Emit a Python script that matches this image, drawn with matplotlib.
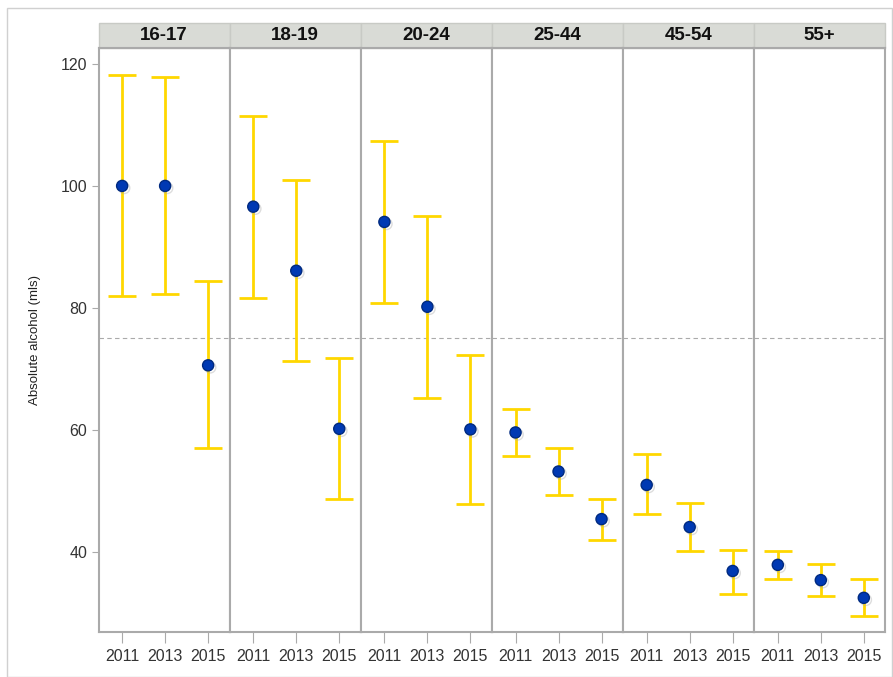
import matplotlib
matplotlib.use("Agg")
import matplotlib.pyplot as plt
import matplotlib.patheffects as pe
from matplotlib.patches import Rectangle
import numpy as np

plt.rcParams['font.family'] = ['Liberation Sans', 'DejaVu Sans']

groups = ['16-17', '18-19', '20-24', '25-44', '45-54', '55+']
years = ['2011', '2013', '2015']

means = [
    [100.0, 100.0, 70.6],
    [96.6, 86.1, 60.2],
    [94.1, 80.2, 60.1],
    [59.6, 53.2, 45.4],
    [51.0, 44.1, 36.9],
    [37.9, 35.4, 32.5],
]
upper = [
    [118.1, 117.9, 84.4],
    [111.5, 101.0, 71.8],
    [107.3, 95.1, 72.3],
    [63.4, 57.1, 48.7],
    [56.0, 48.1, 40.3],
    [40.2, 38.0, 35.6],
]
lower = [
    [82.0, 82.3, 57.0],
    [81.6, 71.3, 48.7],
    [80.8, 65.2, 47.9],
    [55.8, 49.4, 42.0],
    [46.3, 40.2, 33.2],
    [35.6, 32.8, 29.5],
]
ref_line = 75

W, H = 893, 677
fig = plt.figure(figsize=(W / 100, H / 100), dpi=100)

# light outer frame
fig.patches.append(Rectangle((7 / W, 0), (W - 8) / W, 1 - 8 / H, transform=fig.transFigure,
                             fill=False, edgecolor='#d0d0d0', linewidth=1))

left_px, right_px = 98.5, 885.3
top_px, bot_px = 48, 632
pw = (right_px - left_px) / 6
edge = '#aaaaaa'

x = np.arange(3)
for i, g in enumerate(groups):
    ax = fig.add_axes([(left_px + i * pw) / W, 1 - bot_px / H, pw / W, (bot_px - top_px) / H])
    m = np.array(means[i])
    up = np.array(upper[i]) - m
    lo = m - np.array(lower[i])
    ax.errorbar(x, m, yerr=[lo, up], fmt='none', ecolor='#ffd700', elinewidth=2,
                capsize=10, capthick=2, zorder=2)
    ax.plot(x, m, 'o', ms=8, mfc='#0039b3', mec='#002a80', mew=1, zorder=3,
            path_effects=[pe.SimpleLineShadow(offset=(1.5, -1.5), shadow_color='#aaaaaa', alpha=0.4),
                          pe.Normal()])
    ax.axhline(ref_line, color='#aaaaaa', lw=0.8, ls=(0, (4, 3)), zorder=1)
    ax.set_xlim(-0.55, 2.5)
    ax.set_ylim(26.9, 122.6)
    ax.set_xticks(x)
    ax.set_xticklabels(years)
    ax.set_yticks([40, 60, 80, 100, 120])
    for s in ax.spines.values():
        s.set_color(edge)
        s.set_linewidth(1.5)
    ax.tick_params(axis='x', length=8, color=edge, labelsize=11.5, labelcolor='#333333', pad=4)
    ax.tick_params(axis='y', length=5, color=edge, labelsize=11.5, labelcolor='#333333', pad=3)
    if i == 0:
        ax.set_ylabel('Absolute alcohol (mls)', fontsize=9.5, color='#222222', labelpad=14)
    else:
        ax.tick_params(axis='y', left=False, labelleft=False)
    # header strip
    hh = 25 / (bot_px - top_px)
    ax.add_patch(Rectangle((0, 1), 1, hh, transform=ax.transAxes, clip_on=False,
                           facecolor='#d9dbd6', edgecolor='#c8cac5', linewidth=1))
    ax.text(0.5, 1 + hh / 2, g, transform=ax.transAxes, ha='center', va='center',
            fontsize=13.5, fontweight='bold', color='#111111')

fig.savefig('out.png', dpi=100)
